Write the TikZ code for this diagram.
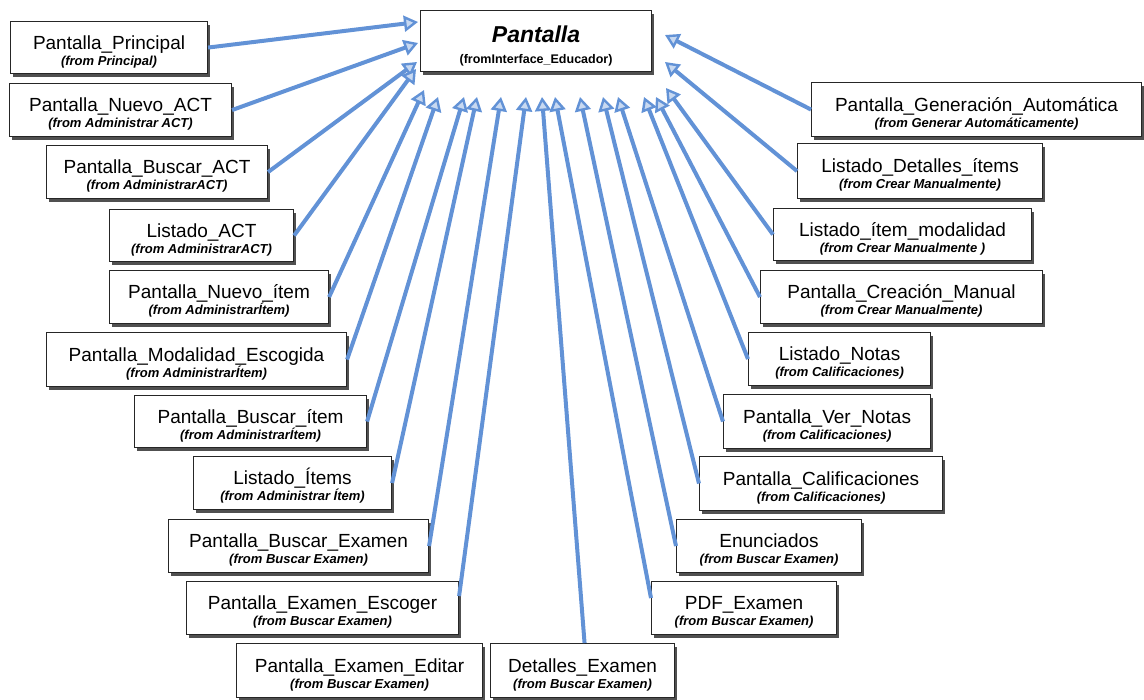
\documentclass[tikz,border=0pt]{standalone}
\usepackage{fontspec}
\setmainfont{Liberation Sans}
\usetikzlibrary{arrows.meta,shadows}
\definecolor{genblue}{RGB}{98,146,214}
\definecolor{boxshade}{RGB}{80,80,80}
\tikzset{
  cls/.style={draw=black!85, line width=1.1pt, fill=white, inner sep=0pt, align=center,
    anchor=north west, font=\fontsize{13}{16}\selectfont,
    drop shadow={shadow xshift=2.5pt, shadow yshift=-3.5pt, opacity=1, fill=boxshade}},
  gen/.style={draw=genblue, line width=4pt,
    -{Triangle[length=14pt,width=16pt,line width=2.4pt,fill=genblue!35]}},
}
\newcommand\nm[1]{{\fontsize{19}{21}\selectfont\rule{0pt}{22pt}#1}}
\newcommand\frm[1]{{\fontsize{13}{15}\selectfont\bfseries\itshape #1}}
% \umlbox{name}{x1}{y1}{x2}{y2}{class}{package}
\newcommand\umlbox[7]{%
  \pgfmathsetmacro\bw{#4-#2-3}\pgfmathsetmacro\bh{#5-#3-4}%
  \node[cls, minimum width=\bw pt, minimum height=\bh pt] (#1) at (#2,#3) {\nm{#6}\\\frm{#7}};}
\begin{document}
\begin{tikzpicture}[x=1pt,y=-1pt]
\useasboundingbox (0,0) rectangle (1144,700);

% parent class
\node[cls, minimum width=231pt, minimum height=61pt, font=\fontsize{13}{21}\selectfont]
  (pantalla) at (420,10)
  {{\fontsize{23}{25}\selectfont\bfseries\itshape\rule{0pt}{26pt}Pantalla}\\{\fontsize{12.5}{14}\selectfont\bfseries (fromInterface\_Educador)}};

% left column
\umlbox{principal}{10}{21}{210}{77}{Pantalla\_Principal}{(from Principal)}
\umlbox{nuevoact}{9}{83}{234}{140}{Pantalla\_Nuevo\_ACT}{(from Administrar ACT)}
\umlbox{buscaract}{46}{145}{270}{202}{Pantalla\_Buscar\_ACT}{(from AdministrarACT)}
\umlbox{listadoact}{109}{209}{296}{265}{Listado\_ACT}{(from AdministrarACT)}
\umlbox{nuevoitem}{109}{270}{331}{327}{Pantalla\_Nuevo\_ítem}{(from AdministrarÍtem)}
\umlbox{modalidad}{46}{332}{349}{390}{Pantalla\_Modalidad\_Escogida}{(from AdministrarÍtem)}
\umlbox{buscaritem}{134}{395}{369}{451}{Pantalla\_Buscar\_ítem}{(from AdministrarÍtem)}
\umlbox{listadoitems}{193}{456}{394}{513}{Listado\_Ítems}{(from Administrar Ítem)}
\umlbox{buscarexamen}{168}{519}{431}{576}{Pantalla\_Buscar\_Examen}{(from Buscar Examen)}
\umlbox{escoger}{186}{581}{461}{638}{Pantalla\_Examen\_Escoger}{(from Buscar Examen)}
\umlbox{editar}{236}{643}{485}{701}{Pantalla\_Examen\_Editar}{(from Buscar Examen)}
\umlbox{detalles}{490}{643}{677}{701}{Detalles\_Examen}{(from Buscar Examen)}

% right column
\umlbox{generacion}{811}{82}{1144}{140}{Pantalla\_Generación\_Automática}{(from Generar Automáticamente)}
\umlbox{detitems}{797}{143}{1045}{202}{Listado\_Detalles\_ítems}{(from Crear Manualmente)}
\umlbox{itemmod}{773}{208}{1034}{264}{Listado\_ítem\_modalidad}{(from Crear Manualmente )}
\umlbox{creacion}{760}{270}{1045}{327}{Pantalla\_Creación\_Manual}{(from Crear Manualmente)}
\umlbox{listnotas}{748}{332}{933}{389}{Listado\_Notas}{(from Calificaciones)}
\umlbox{vernotas}{723}{394}{933}{452}{Pantalla\_Ver\_Notas}{(from Calificaciones)}
\umlbox{calif}{699}{456}{945}{514}{Pantalla\_Calificaciones}{(from Calificaciones)}
\umlbox{enunciados}{676}{519}{864}{576}{Enunciados}{(from Buscar Examen)}
\umlbox{pdf}{651}{581}{839}{638}{PDF\_Examen}{(from Buscar Examen)}

% arrow tips around the parent class
\coordinate (tPrincipal)   at (418,22);
\coordinate (tNuevoACT)    at (418,43);
\coordinate (tBuscarACT)   at (417,62);
\coordinate (tListadoACT)  at (416,69);
\coordinate (tNuevoItem)   at (424,90);
\coordinate (tModalidad)   at (438,97);
\coordinate (tBuscarItem)  at (464,97);
\coordinate (tListadoItems) at (477,97);
\coordinate (tBuscarExamen) at (501,97);
\coordinate (tEscoger)     at (526,97);
\coordinate (tDetalles)    at (542,97);
\coordinate (tPDF)         at (555,97);
\coordinate (tEnunciados)  at (580,97);
\coordinate (tCalif)       at (603,97);
\coordinate (tVerNotas)    at (618,97);
\coordinate (tListNotas)   at (644,97);
\coordinate (tCreacion)    at (656,97);
\coordinate (tItemMod)     at (666,88);
\coordinate (tDetItems)    at (665,62);
\coordinate (tGeneracion)  at (665,35);

% generalizations
\draw[gen] (principal.east) -- (tPrincipal);
\draw[gen] (nuevoact.east) -- (tNuevoACT);
\draw[gen] (buscaract.east) -- (tBuscarACT);
\draw[gen] (listadoact.east) -- (tListadoACT);
\draw[gen] (nuevoitem.east) -- (tNuevoItem);
\draw[gen] (modalidad.east) -- (tModalidad);
\draw[gen] (buscaritem.east) -- (tBuscarItem);
\draw[gen] (listadoitems.east) -- (tListadoItems);
\draw[gen] (buscarexamen.east) -- (tBuscarExamen);
\draw[gen] ([yshift=12pt]escoger.east) -- (tEscoger);
\draw[gen] ([xshift=2pt]detalles.north) -- (tDetalles);
\draw[gen] ([yshift=10pt]pdf.west) -- (tPDF);
\draw[gen] (enunciados.west) -- (tEnunciados);
\draw[gen] (calif.west) -- (tCalif);
\draw[gen] (vernotas.west) -- (tVerNotas);
\draw[gen] (listnotas.west) -- (tListNotas);
\draw[gen] (creacion.west) -- (tCreacion);
\draw[gen] (itemmod.west) -- (tItemMod);
\draw[gen] (detitems.west) -- (tDetItems);
\draw[gen] (generacion.west) -- (tGeneracion);
\end{tikzpicture}
\end{document}
